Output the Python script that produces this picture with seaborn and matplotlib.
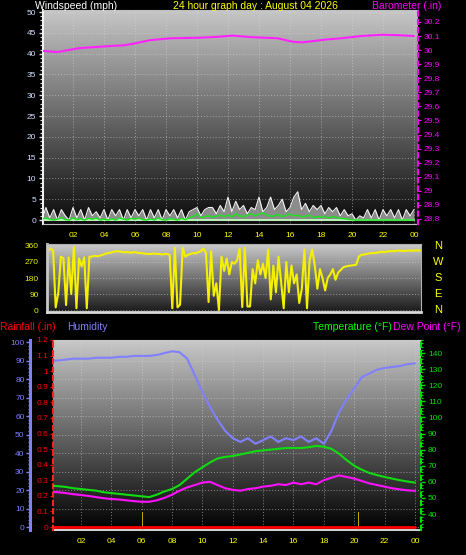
import numpy as np
import matplotlib
matplotlib.use("Agg")
import matplotlib.pyplot as plt
import seaborn as sns
from matplotlib.colors import LinearSegmentedColormap
from matplotlib.ticker import MultipleLocator
from matplotlib.transforms import blended_transform_factory

W, H = 466, 555

# ---------------- data ----------------
hour_ticks = [2, 4, 6, 8, 10, 12, 14, 16, 18, 20, 22, 24]
hour_labels = ["02", "04", "06", "08", "10", "12", "14", "16", "18", "20", "22", "00"]

baro_hours = [0, 1, 2.4, 4.4, 5.3, 6, 7, 8.3, 10.2, 11.4, 12.3, 13.5, 15.2,
              16.2, 16.8, 18.4, 19.3, 20.6, 21.9, 22.8, 24]
baro = [29.995, 29.986, 30.014, 30.029, 30.034, 30.048, 30.071, 30.084, 30.088,
        30.095, 30.103, 30.092, 30.084, 30.059, 30.055, 30.076, 30.084, 30.100,
        30.109, 30.107, 30.100]

# wind (mph), one reading every 15 minutes
wind_gust = [0, 3, 0.5, 2.5, 0, 2.5, 1, 0, 3, 0.5, 2.5, 0, 3, 1, 2, 0.5,
             2.5, 0, 2.5, 1, 2.5, 0, 2.5, 0.5, 2.5, 1, 2.5, 0, 2.5, 0.5, 2.5, 0,
             2.5, 1, 2.5, 0.5, 2.5, 0, 2, 2.5, 3, 1, 2.5, 3, 3, 1.5, 3.5, 2,
             5.5, 2, 4.5, 2.5, 3.5, 1.5, 3, 2.5, 5.5, 2, 3, 5.5, 2.5, 3.5, 5, 2,
             3, 5.5, 6.8, 2.5, 4, 2, 3.5, 2.5, 3.5, 1.5, 3, 2, 3, 1, 2.5, 1,
             1.5, 0, 1, 0.5, 2.5, 0.5, 2.5, 0, 2.5, 1, 2.5, 0.5, 2.5, 0, 2.5, 1,
             2.5]
wind_avg = [0.3, 0.5, 0.2, 0, 0.2, 0.6, 0.1, 0, 0.5, 0.1, 0.3, 0, 0.4, 0.2, 0.5, 0,
            0.2, 0, 0.3, 0, 0.5, 0.2, 0, 0.4, 0.2, 0.5, 0.1, 0, 0.3, 0, 0.5, 0.1,
            0, 0.3, 0.2, 0, 0.4, 0.1, 0.5, 0.8, 1.5, 0.6, 0.8, 1.0, 0.7, 0.9, 1.2, 0.8,
            1.2, 0.7, 1.5, 1.0, 0.8, 1.2, 1.5, 1.0, 1.4, 1.7, 1.2, 0.9, 1.0, 1.3, 0.8, 1.1,
            1.4, 1.0, 1.2, 0.7, 0.9, 1.2, 0.6, 0.8, 0.7, 0.9, 0.5, 0.8, 0.6, 0.4, 0.3, 0.2,
            0.1, 0, 0, 0, 0, 0, 0, 0, 0, 0, 0, 0, 0, 0, 0, 0,
            0]
calm_hours = [0, 24]
calm = [0, 0]

# wind direction (degrees), one reading every 10 minutes
wind_dir = [330, 345, 335, 15, 97, 300,
            290, 28, 295, 90, 355, 10,
            290, 245, 295, 10, 300, 300,
            305, 302, 305, 310, 315, 320,
            322, 325, 330, 330, 328, 325,
            325, 325, 322, 325, 325, 320,
            320, 318, 315, 315, 315, 318,
            315, 315, 312, 315, 315, 310,
            10, 350, 15, 30, 350, 300,
            310, 315, 320, 318, 325, 330,
            345, 320, 45, 330, 80, 150,
            0, 300, 220, 290, 200, 270,
            260, 280, 345, 17, 350, 20,
            20, 230, 150, 280, 200, 260,
            180, 340, 60, 250, 100, 300,
            160, 10, 270, 100, 250, 150,
            200, 40, 120, 340, 10, 280,
            340, 250, 120, 230, 180, 110,
            180, 200, 230, 170, 210, 225,
            240, 245, 248, 250, 252, 255,
            300, 310, 312, 315, 318, 320,
            320, 322, 325, 328, 325, 330,
            330, 332, 330, 335, 333, 332,
            332, 335, 333, 334, 335, 335,
            335]

# humidity / temperature / dew point, one reading every 30 minutes
humidity = [90, 90, 90.5, 91, 91, 91, 91.5, 91.5, 91.5, 92, 92, 92.5, 92.5, 92.5,
            93, 94, 95, 94.5, 91, 82, 73, 65, 58, 52, 48, 46, 48, 45, 47, 49,
            46, 48, 47, 49, 46, 48, 45, 52, 62, 69, 75, 81, 83, 85, 86, 86.5,
            87, 88, 88.5]
temperature = [57.6, 57.3, 56.8, 56, 55.5, 55, 54.5, 53.5, 53, 52.5, 52, 51.5, 51,
               50.5, 52, 54, 55.5, 58, 62, 66, 69, 72, 74.5, 75.5, 76, 77, 78, 79,
               79.5, 80, 80.5, 81, 81, 81, 81.5, 82.3, 81.8, 80.5, 77.5, 73.5, 70,
               67.5, 65.5, 64.2, 63, 62, 61, 60.2, 59.5]
dew_point = [53.7, 53.5, 53, 52.3, 51.8, 51.2, 50.5, 49.8, 49.3, 49, 48.5, 48, 47.6,
             47.6, 48.5, 50, 52, 54.5, 56.5, 58, 59.5, 60, 58, 56, 55, 54.5, 55.5,
             56, 57, 57.5, 58.5, 58, 59.5, 58.5, 59.5, 58.5, 61, 62.5, 64, 63, 62,
             60.5, 59, 58, 57, 56, 55.3, 54.7, 54.4]

# rainfall (.in)
rain_hours = [0, 24]
rain_total = [0, 0]
rain_rate_hours = [6.05, 20.3]
rain_rate = [0.096, 0.096]

compass_labels = ["N", "W", "S", "E", "N"]
compass_deg = [360, 270, 180, 90, 0]

wind_t = np.linspace(0, 24, len(wind_gust))
dir_t = np.linspace(0, 24, len(wind_dir))
th_t = np.linspace(0, 24, len(humidity))

# ---------------- style ----------------
sns.set_style("dark")
plt.rcParams["font.family"] = ["Liberation Sans", "DejaVu Sans"]
plt.rcParams["axes.unicode_minus"] = False

fig = plt.figure(figsize=(W / 100, H / 100), dpi=100, facecolor="black")


def box(x0, y0, x1, y1):
    return [x0 / W, 1 - y1 / H, (x1 - x0) / W, (y1 - y0) / H]


def shade(ax, top, bottom):
    cmap = LinearSegmentedColormap.from_list("bg", [bottom, top])
    x0, x1 = ax.get_xlim()
    y0, y1 = ax.get_ylim()
    ax.imshow(np.linspace(0, 1, 256).reshape(-1, 1), extent=(x0, x1, y0, y1),
              origin="lower", aspect="auto", cmap=cmap, zorder=0)
    ax.set_xlim(x0, x1)
    ax.set_ylim(y0, y1)


grid_kw = dict(color="#d8d8d8", linestyle=(0, (1, 2)), linewidth=0.7, alpha=0.55)

# ---------------- panel 1: wind + barometer ----------------
ax1 = fig.add_axes(box(43, 10, 418, 224))
ax1.set_xlim(0.065, 24.26)
ax1.set_ylim(-0.96, 50.5)
shade(ax1, "#c6c6c6", "#0a0a0a")
ax1.fill_between(wind_t, 0, wind_gust, color="#8c8c8c", linewidth=0, zorder=2)
sns.lineplot(x=wind_t, y=wind_gust, ax=ax1, color="#f4f4f4", linewidth=0.8,
             estimator=None, zorder=3)
sns.lineplot(x=calm_hours, y=calm, ax=ax1, color="#b8f0b8", linewidth=1.5,
             estimator=None, zorder=3)
sns.lineplot(x=wind_t, y=wind_avg, ax=ax1, color="#22e022", linewidth=1.1,
             estimator=None, zorder=4)
ax1.set_yticks(range(0, 51, 5))
ax1.yaxis.set_minor_locator(MultipleLocator(1))
ax1.set_xticks(hour_ticks)
ax1.set_xticklabels(hour_labels)
ax1.tick_params(axis="y", which="both", colors="#e0e0e0", labelcolor="#d4e0ff",
                labelsize=6, direction="out", pad=2)
ax1.tick_params(axis="y", which="major", length=3, width=1)
ax1.tick_params(axis="y", which="minor", length=2, width=0.8)
ax1.tick_params(axis="x", colors="#606060", labelcolor="#ffff00", labelsize=6,
                length=2, pad=4)
ax1.grid(True, **grid_kw)
ax1.set_xlabel("")
ax1.set_ylabel("")
for side in ["top", "bottom"]:
    ax1.spines[side].set_color("#c0c0c0")
ax1.spines["left"].set_color("#f0f0f0")
ax1.spines["left"].set_linewidth(1.5)
ax1.spines["right"].set_visible(False)

ax1b = ax1.twinx()
ax1b.set_ylim(28.764, 30.285)
sns.lineplot(x=baro_hours, y=baro, ax=ax1b, color="#ff22ff", linewidth=1.5,
             estimator=None)
baro_ticks = np.round(np.arange(28.8, 30.21, 0.1), 1)
ax1b.set_yticks(baro_ticks)
ax1b.set_yticklabels([f"{v:g}" for v in baro_ticks])
ax1b.tick_params(axis="y", colors="#ff00ff", labelsize=6, length=2, pad=2)
ax1b.set_ylabel("")
for side in ["left", "top", "bottom"]:
    ax1b.spines[side].set_visible(False)
ax1b.spines["right"].set_color("#ff00ff")
ax1b.spines["right"].set_linestyle((0, (2, 2)))
ax1b.spines["right"].set_linewidth(1.5)

# ---------------- panel 2: wind direction ----------------
ax2 = fig.add_axes(box(47, 244, 421, 312))
ax2.set_xlim(-0.06, 24.0)
ax2.set_ylim(-11, 371)
shade(ax2, "#cacaca", "#1a1a1a")
sns.lineplot(x=dir_t, y=wind_dir, ax=ax2, color="#f4f000", linewidth=1.5,
             estimator=None)
ax2.set_yticks([0, 90, 180, 270, 360])
ax2.yaxis.set_minor_locator(MultipleLocator(22.5))
ax2.set_xticks([])
ax2.tick_params(axis="y", which="both", colors="#a8a000", labelcolor="#e8f000",
                labelsize=6, direction="out", pad=2)
ax2.tick_params(axis="y", which="major", length=4, width=1.5)
ax2.tick_params(axis="y", which="minor", length=2, width=1)
ax2.grid(True, axis="y", **grid_kw)
ax2.set_xlabel("")
ax2.set_ylabel("")
for side in ["top", "right"]:
    ax2.spines[side].set_color("#b0b0b0")
ax2.spines["left"].set_color("#c8c8c8")
ax2.spines["left"].set_linewidth(2)
ax2.spines["bottom"].set_color("#d8d8d8")
ax2.spines["bottom"].set_linewidth(2)
blend = blended_transform_factory(ax2.transAxes, ax2.transData)
for lbl, deg in zip(compass_labels, compass_deg):
    ax2.text(1.045, deg, lbl, transform=blend, color="#ffff00", fontsize=8,
             ha="center", va="center")

# ---------------- panel 3: rain, humidity, temperature ----------------
ax3 = fig.add_axes(box(53, 340, 421, 530))
ax3.set_xlim(0.16, 24.4)
ax3.set_ylim(-1.6, 101.1)
shade(ax3, "#c8c8c8", "#000000")
sns.lineplot(x=th_t, y=humidity, ax=ax3, color="#8080ff", linewidth=1.5,
             estimator=None)
ax3.set_yticks(range(0, 101, 10))
ax3.yaxis.set_minor_locator(MultipleLocator(2))
ax3.set_xticks(hour_ticks)
ax3.set_xticklabels(hour_labels)
ax3.tick_params(axis="y", which="both", colors="#8080ff", labelsize=6,
                direction="out", pad=1)
ax3.tick_params(axis="y", which="major", length=3, width=1)
ax3.tick_params(axis="y", which="minor", length=1.5, width=0.8)
ax3.tick_params(axis="x", colors="#606060", labelcolor="#ffff00", labelsize=6,
                length=2, pad=4)
ax3.grid(True, **grid_kw)
ax3.set_xlabel("")
ax3.set_ylabel("")
ax3.spines["left"].set_position(("outward", 16.5))
ax3.spines["left"].set_color("#8080ff")
ax3.spines["left"].set_linewidth(2.2)
ax3.spines["right"].set_visible(False)
ax3.spines["top"].set_color("#c8c8c8")
ax3.spines["bottom"].set_color("#d0d0d0")
ax3.spines["bottom"].set_linewidth(1.5)

ax3r = ax3.twinx()
rain_lo, rain_hi = -0.019, 1.199
ax3r.set_ylim(rain_lo, rain_hi)
ax3r.bar(rain_rate_hours, [v - rain_lo for v in rain_rate], bottom=rain_lo,
         width=0.09, color="#b8a400", edgecolor="none", zorder=2)
sns.lineplot(x=rain_hours, y=rain_total, ax=ax3r, color="#ff0000", linewidth=2,
             estimator=None)
rain_ticks = np.round(np.arange(0, 1.21, 0.1), 1)
ax3r.set_yticks(rain_ticks)
ax3r.set_yticklabels([f"{v:g}" for v in rain_ticks])
ax3r.yaxis.tick_left()
ax3r.tick_params(axis="y", colors="#ff0000", labelsize=6, length=2, pad=1.5)
ax3r.set_ylabel("")
for side in ["right", "top", "bottom"]:
    ax3r.spines[side].set_visible(False)
ax3r.spines["left"].set_visible(True)
ax3r.spines["left"].set_color("#ff2020")
ax3r.spines["left"].set_linestyle((0, (2, 2)))
ax3r.spines["left"].set_linewidth(1.5)

ax3t = ax3.twinx()
ax3t.set_ylim(30.06, 148.1)
sns.lineplot(x=th_t, y=temperature, ax=ax3t, color="#10dd10", linewidth=1.5,
             estimator=None)
sns.lineplot(x=th_t, y=dew_point, ax=ax3t, color="#ff10ff", linewidth=1.5,
             estimator=None)
ax3t.set_yticks(range(40, 141, 10))
ax3t.yaxis.set_minor_locator(MultipleLocator(2))
ax3t.tick_params(axis="y", which="both", colors="#00e000", labelsize=6,
                 direction="out", pad=2)
ax3t.tick_params(axis="y", which="major", length=3, width=1)
ax3t.tick_params(axis="y", which="minor", length=1.5, width=0.8)
ax3t.set_ylabel("")
for side in ["left", "top", "bottom"]:
    ax3t.spines[side].set_visible(False)
ax3t.spines["right"].set_color("#00e000")
ax3t.spines["right"].set_linestyle((0, (2, 2)))
ax3t.spines["right"].set_linewidth(1.5)

# ---------------- headings ----------------
def label(x, y, text, color):
    fig.text(x / W, 1 - y / H, text, color=color, fontsize=7.5, ha="left",
             va="center")


label(35, 6, "Windspeed (mph)", "white")
label(173, 6, "24 hour graph day : August 04 2026", "#ffff00")
label(372, 6, "Barometer (.in)", "#ff00ff")
label(0, 327, "Rainfall (.in)", "#ff0000")
label(67, 327, "Humidity", "#8080ff")
label(313, 327, "Temperature (°F)", "#00ff00")
label(393, 327, "Dew Point (°F)", "#ff00ff")

fig.savefig("out.png", dpi=100, facecolor="black")
